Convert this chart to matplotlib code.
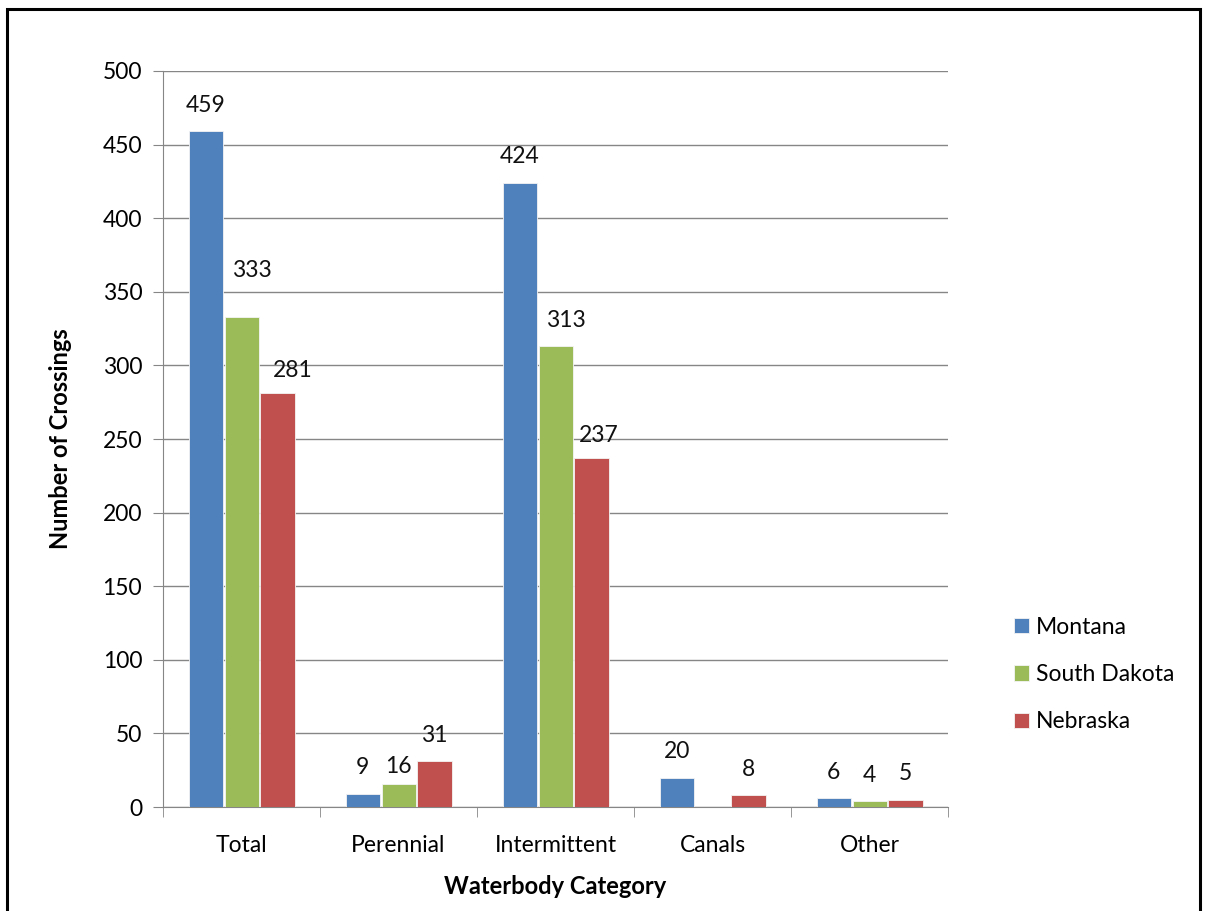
import numpy as np
import matplotlib.pyplot as plt
from matplotlib.patches import Rectangle

categories = ['Total', 'Perennial', 'Intermittent', 'Canals', 'Other']
montana = [459, 9, 424, 20, 6]
south_dakota = [333, 16, 313, 0, 4]
nebraska = [281, 31, 237, 8, 5]

series_names = ['Montana', 'South Dakota', 'Nebraska']
series_colors = ['#4F81BD', '#9BBB59', '#C0504D']

# hand-moved data labels in the original (pixel nudges: dx, dy)
label_nudges = {
    ('Total', 'South Dakota'): (10, 20),
    ('Total', 'Nebraska'): (15, -3),
    ('Intermittent', 'South Dakota'): (10, 0),
    ('Intermittent', 'Nebraska'): (7, -3),
    ('Perennial', 'South Dakota'): (0, -9),
}

plt.rcParams['font.family'] = ['Lato', 'DejaVu Sans']

fig = plt.figure(figsize=(12.06, 9.11), dpi=100)
ax = fig.add_axes([0.1352, 0.1141, 0.6509, 0.8080])

# black frame around the whole chart
fig.patches.append(Rectangle((0.0062, -0.01), 0.9892, 0.9998, transform=fig.transFigure,
                             fill=False, edgecolor='black', linewidth=2.2))

x = np.arange(len(categories))
width = 0.217
all_series = [montana, south_dakota, nebraska]
for i, (vals, name, col) in enumerate(zip(all_series, series_names, series_colors)):
    pos = x + (i - 1) * (width + 0.012)
    ax.bar(pos, vals, width, color=col, label=name, zorder=3,
           edgecolor='#f4f4f4', linewidth=0.6)
    for cat, p, v in zip(categories, pos, vals):
        if v == 0:
            continue
        dx, dy = label_nudges.get((cat, name), (0, 0))
        ax.annotate(str(v), (p, v), xytext=(dx, 26 + dy), textcoords='offset pixels',
                    ha='center', va='center', fontsize=16.5, color='#111111')

ax.set_xlim(-0.5, len(categories) - 0.5)
ax.set_ylim(0, 500)
ax.set_yticks(np.arange(0, 501, 50))
ax.set_xticks(x)
ax.set_xticklabels(categories)
ax.set_xticks(np.arange(-0.5, len(categories), 1), minor=True)
ax.tick_params(axis='x', which='major', length=0, pad=20, labelsize=16.5)
ax.tick_params(axis='x', which='minor', length=7, color='#868686')
ax.tick_params(axis='y', length=7, color='#868686', labelsize=16.5, pad=8)

ax.grid(axis='y', color='#868686', linewidth=1, zorder=0)
for s in ['top', 'right']:
    ax.spines[s].set_visible(False)
for s in ['left', 'bottom']:
    ax.spines[s].set_color('#868686')

ax.set_ylabel('Number of Crossings', fontsize=17, fontweight='bold', labelpad=22)
ax.set_xlabel('Waterbody Category', fontsize=17, fontweight='bold', labelpad=14)

ax.legend(loc='center left', bbox_to_anchor=(1.058, 0.18), frameon=False,
          fontsize=16.5, handlelength=0.65, handleheight=0.65, labelspacing=1.15,
          handletextpad=0.3)

fig.savefig('out.png', dpi=100)
